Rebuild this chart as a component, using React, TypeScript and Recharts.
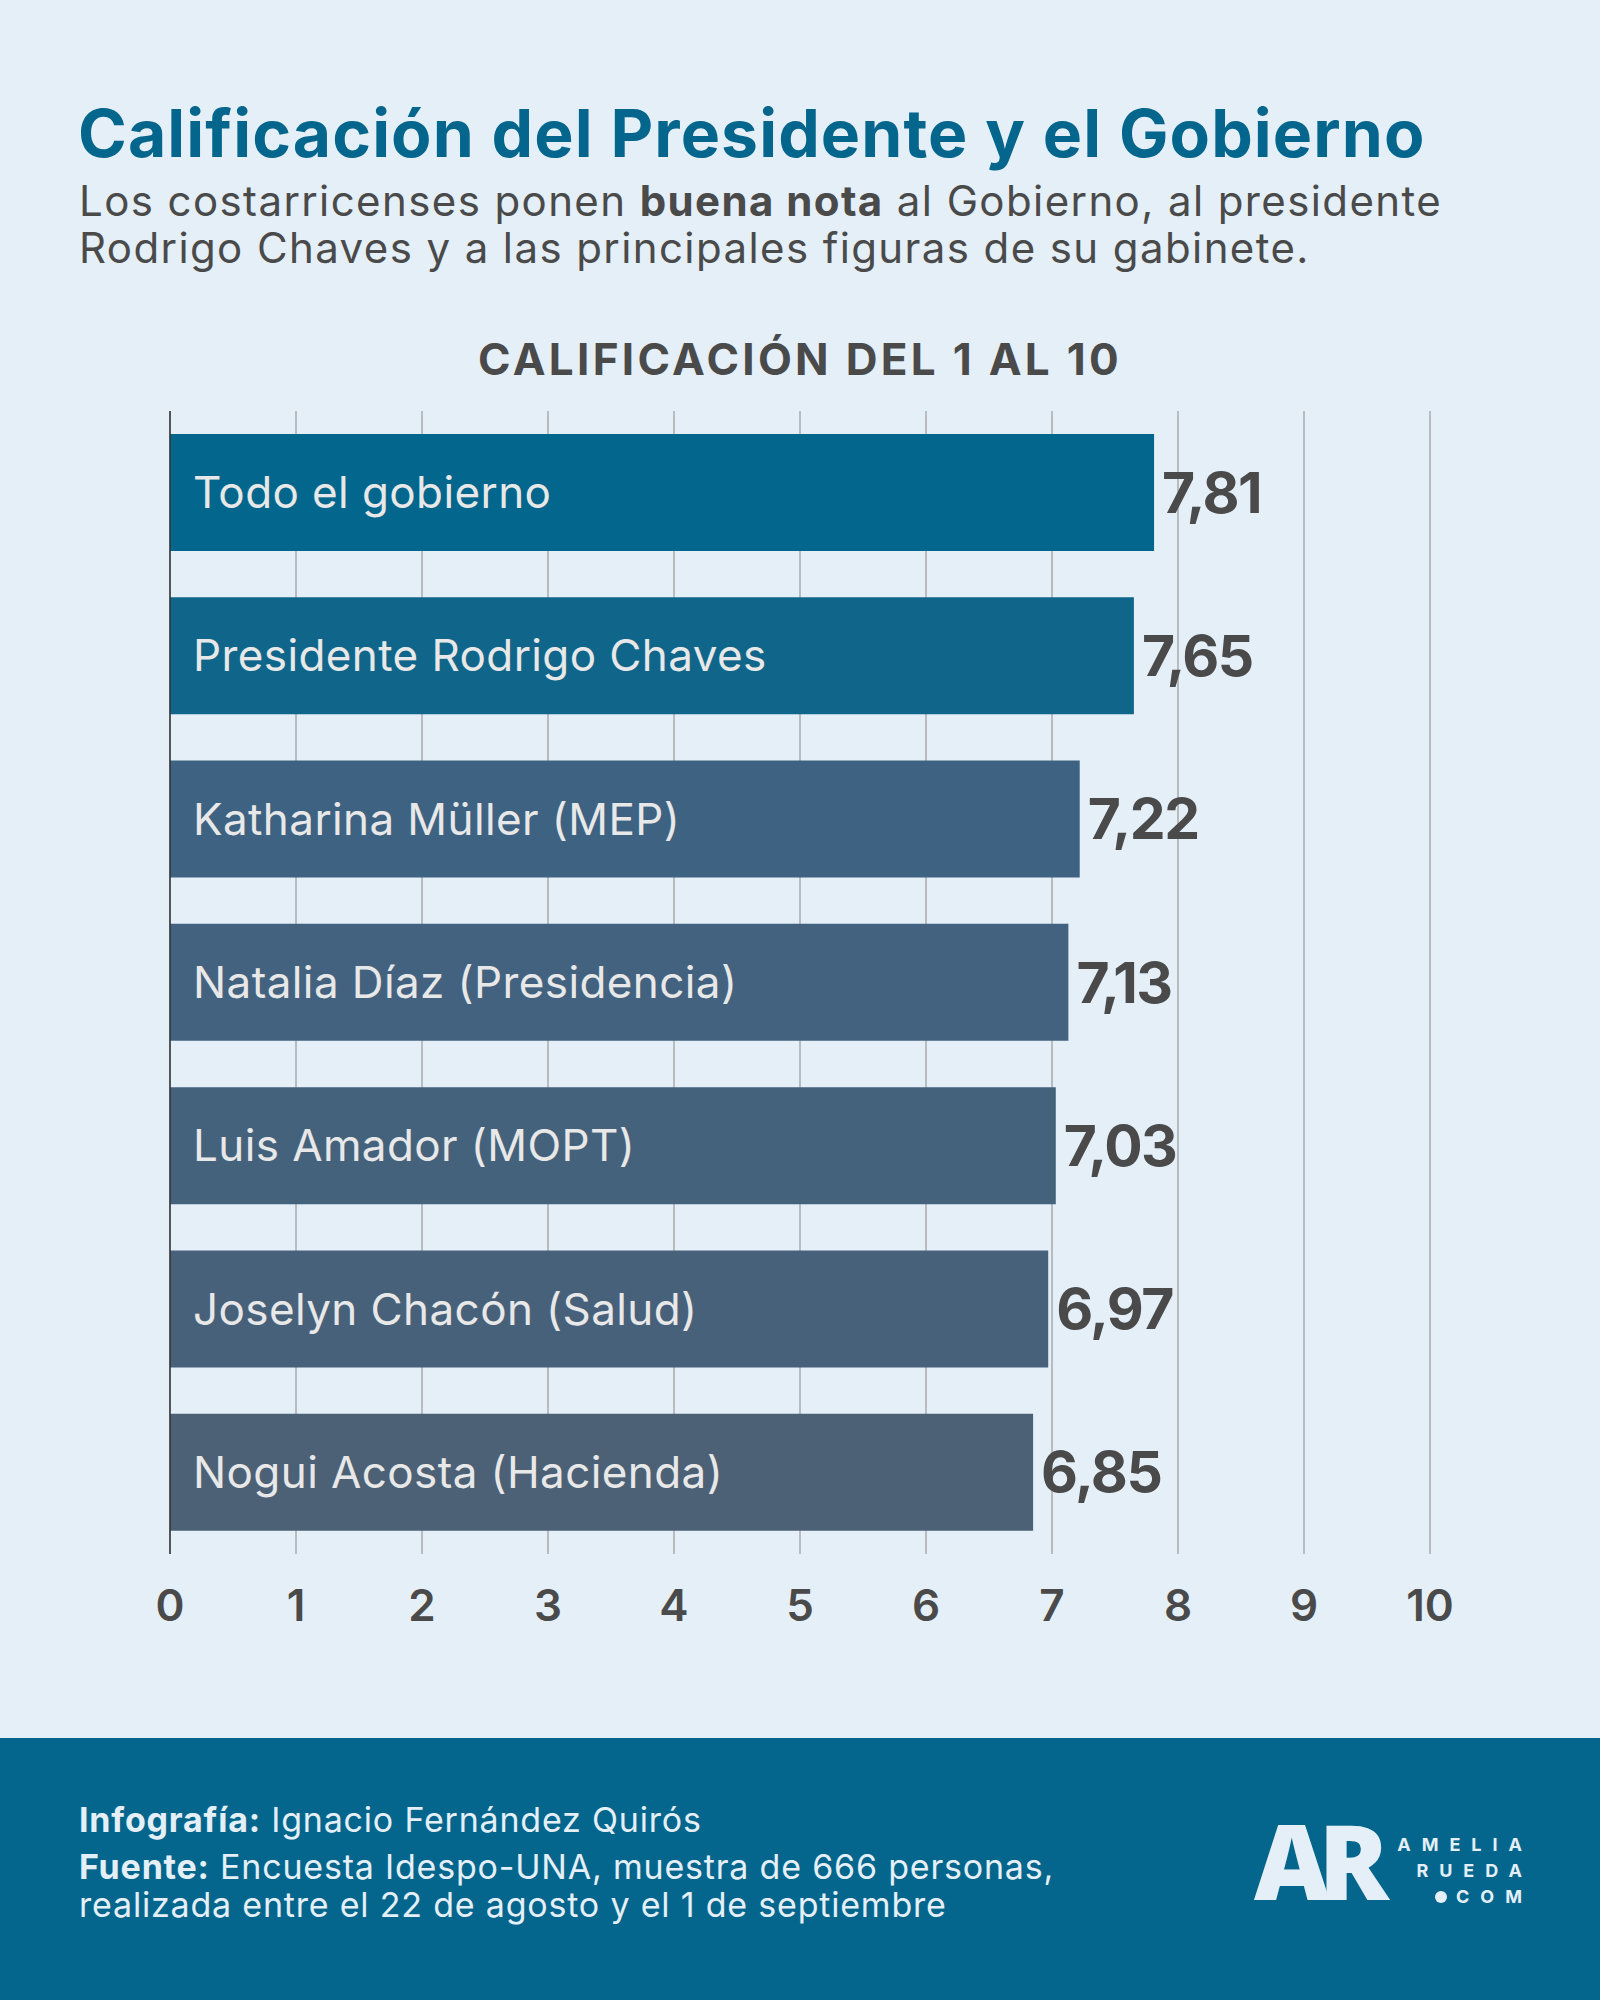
import { BarChart, Bar, XAxis, YAxis, CartesianGrid, Cell, LabelList, ReferenceLine } from "recharts";

const names = [
  "Todo el gobierno",
  "Presidente Rodrigo Chaves",
  "Katharina Müller (MEP)",
  "Natalia Díaz (Presidencia)",
  "Luis Amador (MOPT)",
  "Joselyn Chacón (Salud)",
  "Nogui Acosta (Hacienda)",
];
const scores = [7.81, 7.65, 7.22, 7.13, 7.03, 6.97, 6.85];
const barColors = ["#03668C", "#10668A", "#3E6282", "#42627F", "#45627C", "#48617A", "#4C6176"];
const xTicks = [0, 1, 2, 3, 4, 5, 6, 7, 8, 9, 10];

const data = names.map((name, i) => ({
  name,
  value: scores[i],
  label: scores[i].toFixed(2).replace(".", ","),
}));

const FONT = "Inter, 'Noto Sans', sans-serif";
const BG = "#E4EFF8";
const DARK = "#4A4A4A";
const BLUE = "#04668C";

export default function App() {
  return (
    <div
      style={{
        position: "absolute",
        left: 0,
        top: 0,
        width: 1600,
        height: 2000,
        background: BG,
        fontFamily: FONT,
        overflow: "hidden",
      }}
    >
      {/* header */}
      <div
        style={{
          position: "absolute",
          left: 78,
          top: 93,
          fontSize: 66,
          fontWeight: 700,
          color: BLUE,
          letterSpacing: 1.1,
          whiteSpace: "nowrap",
        }}
      >
        Calificación del Presidente y el Gobierno
      </div>
      <div
        style={{
          position: "absolute",
          left: 79,
          top: 177,
          fontSize: 42,
          lineHeight: "47px",
          color: DARK,
          letterSpacing: 1.4,
          whiteSpace: "nowrap",
        }}
      >
        Los costarricenses ponen <b>buena nota</b> al Gobierno, al presidente
        <br />
        Rodrigo Chaves y a las principales figuras de su gabinete.
      </div>
      <div
        style={{
          position: "absolute",
          left: 0,
          width: 1600,
          top: 332,
          textAlign: "center",
          fontSize: 44,
          fontWeight: 700,
          color: DARK,
          letterSpacing: 3.3,
        }}
      >
        CALIFICACIÓN DEL 1 AL 10
      </div>

      {/* chart */}
      <div style={{ position: "absolute", left: 0, top: 380 }}>
        <BarChart
          width={1600}
          height={1280}
          data={data}
          layout="vertical"
          margin={{ top: 31, right: 170, bottom: 36, left: 170 }}
        >
          <CartesianGrid vertical horizontal={false} stroke="#B9BCBF" strokeWidth={2} />
          <XAxis
            type="number"
            domain={[0, 10]}
            ticks={xTicks}
            interval={0}
            axisLine={false}
            tickLine={false}
            tickSize={0}
            tickMargin={36}
            height={70}
            tick={{ fill: DARK, fontSize: 44, fontWeight: 600, fontFamily: FONT }}
          />
          <YAxis type="category" dataKey="name" hide width={0} />
          <ReferenceLine x={0} stroke="#333" strokeWidth={1.5} />
          <Bar dataKey="value" barSize={117} isAnimationActive={false}>
            {data.map((d, i) => (
              <Cell key={d.name} fill={barColors[i]} />
            ))}
            <LabelList
              dataKey="name"
              position="insideLeft"
              offset={23}
              fill="#E8E8E8"
              fontSize={44}
              fontFamily={FONT}
              letterSpacing={0.4}
            />
            <LabelList
              dataKey="label"
              position="right"
              offset={8}
              fill={DARK}
              fontSize={57}
              fontWeight={700}
              fontFamily={FONT}
              letterSpacing={-1.5}
            />
          </Bar>
        </BarChart>
      </div>

      {/* footer */}
      <div
        style={{
          position: "absolute",
          left: 0,
          top: 1738,
          width: 1600,
          height: 262,
          background: BLUE,
          color: BG,
        }}
      >
        <div
          style={{
            position: "absolute",
            left: 79,
            top: 63,
            fontSize: 34,
            lineHeight: "38px",
            letterSpacing: 0.8,
            whiteSpace: "nowrap",
          }}
        >
          <b>Infografía:</b> Ignacio Fernández Quirós
          <div style={{ height: 9 }} />
          <b>Fuente:</b> Encuesta Idespo-UNA, muestra de 666 personas,
          <br />
          realizada entre el 22 de agosto y el 1 de septiembre
        </div>
        <div
          style={{
            position: "absolute",
            left: 1254,
            top: 62,
            fontSize: 104,
            fontWeight: 900,
            letterSpacing: -11,
            lineHeight: "120px",
            fontFamily: "'Open Sans', sans-serif",
          }}
        >
          AR
        </div>
        <div
          style={{
            position: "absolute",
            left: 1380,
            width: 153,
            top: 94,
            textAlign: "right",
            fontSize: 18,
            fontWeight: 700,
            lineHeight: "26px",
            letterSpacing: 11,
          }}
        >
          <div>AMELIA</div>
          <div>RUEDA</div>
          <div>
            <span
              style={{
                display: "inline-block",
                width: 12,
                height: 12,
                borderRadius: 6,
                background: BG,
                marginRight: 9,
                verticalAlign: "middle",
                marginTop: -3,
              }}
            />
            COM
          </div>
        </div>
      </div>
    </div>
  );
}
